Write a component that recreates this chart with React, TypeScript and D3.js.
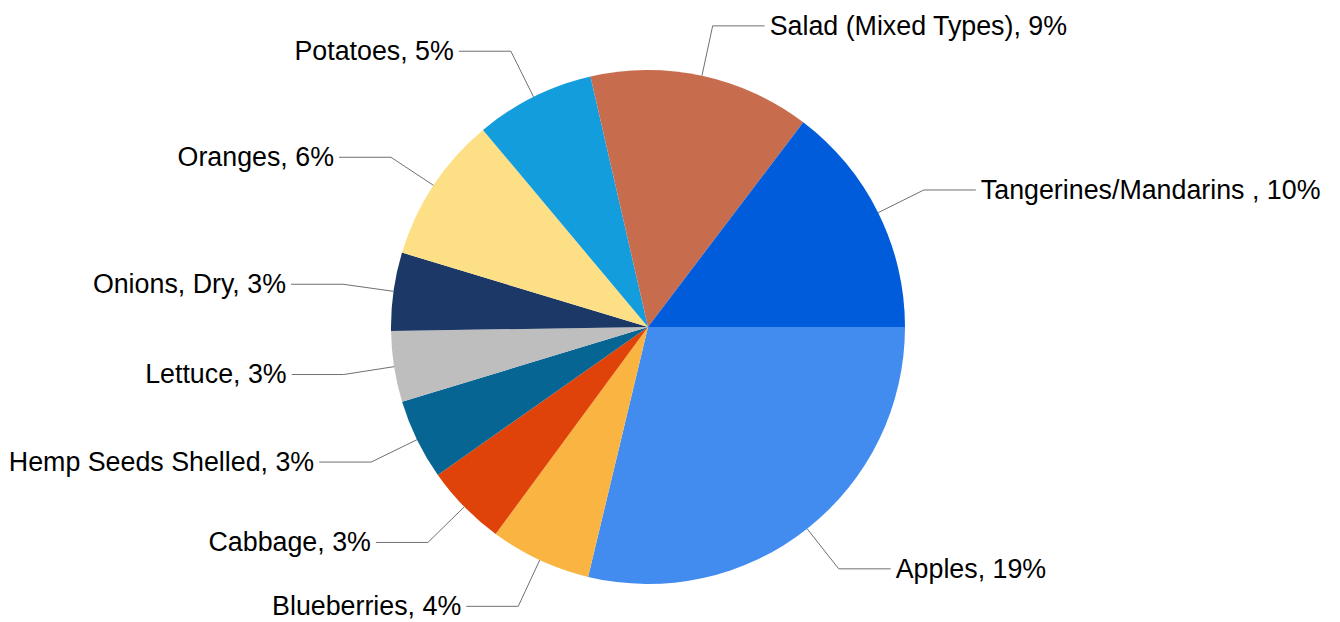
import React from "react";
import * as d3 from "d3";

const categories = [
  "Apples",
  "Blueberries",
  "Cabbage",
  "Hemp Seeds Shelled",
  "Lettuce",
  "Onions, Dry",
  "Oranges",
  "Potatoes",
  "Salad (Mixed Types)",
  "Tangerines/Mandarins ",
];
const values = [19.0, 4.2, 3.4, 3.35, 2.94, 3.25, 6.1, 4.96, 9.2, 9.7];
const colors = [
  "#438CEF",
  "#FAB442",
  "#E0430A",
  "#066593",
  "#BEBEBE",
  "#1B3866",
  "#FDE085",
  "#149DDC",
  "#C86C4E",
  "#005CDB",
];

const W = 1340;
const H = 622;
const cx = 648;
const cy = 327;
const R = 257;
const elbowR = 308;
const hLen = 52;
const gap = 5;

export default function App() {
  const data = categories.map((c, i) => ({ name: c, value: values[i], color: colors[i] }));
  const pie = d3
    .pie<any>()
    .sort(null)
    .value((d) => d.value)
    .startAngle(Math.PI / 2)
    .endAngle(Math.PI / 2 + 2 * Math.PI);
  const arcs = pie(data);
  const arc = d3.arc<any>().innerRadius(0).outerRadius(R);

  return (
    <svg
      width={W}
      height={H}
      style={{ position: "absolute", left: 0, top: 0, background: "#fff" }}
      fontFamily="'Liberation Sans', Arial, sans-serif"
    >
      <g transform={`translate(${cx},${cy})`}>
        {arcs.map((a, i) => (
          <path key={i} d={arc(a) as string} fill={a.data.color} />
        ))}
        {arcs.map((a, i) => {
          const mid = (a.startAngle + a.endAngle) / 2;
          const sx = Math.sin(mid);
          const sy = -Math.cos(mid);
          const p0 = [R * sx, R * sy];
          const p1 = [elbowR * sx, elbowR * sy];
          const right = sx > 0;
          const p2 = [p1[0] + (right ? hLen : -hLen), p1[1]];
          const tx = p2[0] + (right ? gap : -gap);
          const label = `${a.data.name}, ${Math.round(a.data.value)}%`;
          return (
            <g key={"l" + i}>
              <polyline
                points={`${p0[0]},${p0[1]} ${p1[0]},${p1[1]} ${p2[0]},${p2[1]}`}
                fill="none"
                stroke="#707070"
                strokeWidth={1}
              />
              <text
                x={tx}
                y={p2[1]}
                dy="0.33em"
                fontSize={26.8}
                fill="#000"
                textAnchor={right ? "start" : "end"}
              >
                {label}
              </text>
            </g>
          );
        })}
      </g>
    </svg>
  );
}
